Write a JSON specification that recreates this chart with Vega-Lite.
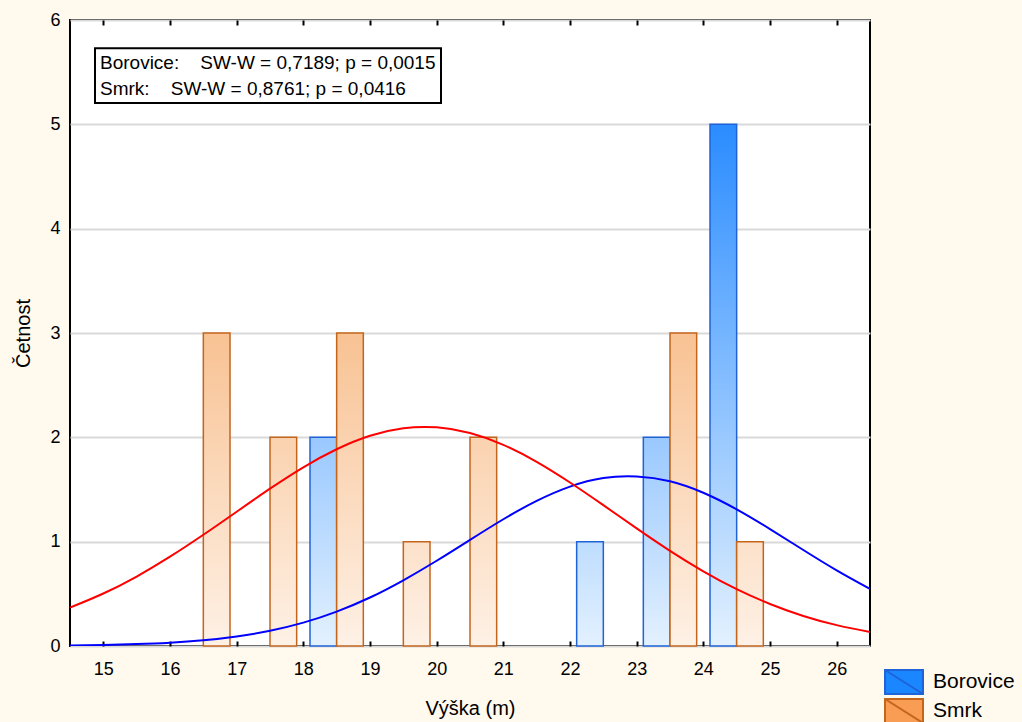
{
  "$schema": "https://vega.github.io/schema/vega-lite/v6.json",
  "width": 800,
  "height": 626,
  "autosize": "none",
  "padding": {"left": 70, "top": 20, "right": 152, "bottom": 76},
  "background": "#FFF9EE",
  "config": {
    "view": {"stroke": "#000000", "strokeWidth": 2, "fill": "#FFFFFF"},
    "font": "Liberation Sans",
    "axis": {
      "labelFont": "Liberation Sans",
      "labelColor": "#000000",
      "labelFontSize": 18,
      "titleFont": "Liberation Sans",
      "titleFontSize": 20,
      "titleFontWeight": "normal",
      "titleColor": "#000000",
      "tickColor": "#000000",
      "tickWidth": 2,
      "domain": false
    }
  },
  "datasets": {
    "hist": [
      {"series": "Borovice", "bin": 18, "count": 2},
      {"series": "Borovice", "bin": 22, "count": 1},
      {"series": "Borovice", "bin": 23, "count": 2},
      {"series": "Borovice", "bin": 24, "count": 5},
      {"series": "Smrk", "bin": 16, "count": 3},
      {"series": "Smrk", "bin": 17, "count": 2},
      {"series": "Smrk", "bin": 18, "count": 3},
      {"series": "Smrk", "bin": 19, "count": 1},
      {"series": "Smrk", "bin": 20, "count": 2},
      {"series": "Smrk", "bin": 23, "count": 3},
      {"series": "Smrk", "bin": 24, "count": 1}
    ],
    "curves": [
      {"series": "Borovice", "x": 14.5, "y": 0.005},
      {"series": "Borovice", "x": 15, "y": 0.009},
      {"series": "Borovice", "x": 15.5, "y": 0.018},
      {"series": "Borovice", "x": 16, "y": 0.032},
      {"series": "Borovice", "x": 16.5, "y": 0.055},
      {"series": "Borovice", "x": 17, "y": 0.092},
      {"series": "Borovice", "x": 17.5, "y": 0.146},
      {"series": "Borovice", "x": 18, "y": 0.224},
      {"series": "Borovice", "x": 18.5, "y": 0.33},
      {"series": "Borovice", "x": 19, "y": 0.465},
      {"series": "Borovice", "x": 19.5, "y": 0.63},
      {"series": "Borovice", "x": 20, "y": 0.817},
      {"series": "Borovice", "x": 20.5, "y": 1.017},
      {"series": "Borovice", "x": 21, "y": 1.215},
      {"series": "Borovice", "x": 21.5, "y": 1.391},
      {"series": "Borovice", "x": 22, "y": 1.528},
      {"series": "Borovice", "x": 22.5, "y": 1.61},
      {"series": "Borovice", "x": 23, "y": 1.625},
      {"series": "Borovice", "x": 23.5, "y": 1.579},
      {"series": "Borovice", "x": 24, "y": 1.469},
      {"series": "Borovice", "x": 24.5, "y": 1.31},
      {"series": "Borovice", "x": 25, "y": 1.121},
      {"series": "Borovice", "x": 25.5, "y": 0.92},
      {"series": "Borovice", "x": 26, "y": 0.725},
      {"series": "Borovice", "x": 26.5, "y": 0.547},
      {"series": "Smrk", "x": 14.5, "y": 0.368},
      {"series": "Smrk", "x": 15, "y": 0.503},
      {"series": "Smrk", "x": 15.5, "y": 0.666},
      {"series": "Smrk", "x": 16, "y": 0.856},
      {"series": "Smrk", "x": 16.5, "y": 1.066},
      {"series": "Smrk", "x": 17, "y": 1.287},
      {"series": "Smrk", "x": 17.5, "y": 1.508},
      {"series": "Smrk", "x": 18, "y": 1.713},
      {"series": "Smrk", "x": 18.5, "y": 1.886},
      {"series": "Smrk", "x": 19, "y": 2.015},
      {"series": "Smrk", "x": 19.5, "y": 2.087},
      {"series": "Smrk", "x": 20, "y": 2.096},
      {"series": "Smrk", "x": 20.5, "y": 2.041},
      {"series": "Smrk", "x": 21, "y": 1.928},
      {"series": "Smrk", "x": 21.5, "y": 1.765},
      {"series": "Smrk", "x": 22, "y": 1.567},
      {"series": "Smrk", "x": 22.5, "y": 1.35},
      {"series": "Smrk", "x": 23, "y": 1.127},
      {"series": "Smrk", "x": 23.5, "y": 0.912},
      {"series": "Smrk", "x": 24, "y": 0.716},
      {"series": "Smrk", "x": 24.5, "y": 0.545},
      {"series": "Smrk", "x": 25, "y": 0.403},
      {"series": "Smrk", "x": 25.5, "y": 0.288},
      {"series": "Smrk", "x": 26, "y": 0.2},
      {"series": "Smrk", "x": 26.5, "y": 0.135}
    ]
  },
  "resolve": {"axis": {"x": "independent"}},
  "layer": [
    {
      "data": {"name": "hist"},
      "transform": [
        {"calculate": "datum.bin + (datum.series === 'Borovice' ? 0.1 : 0.5)", "as": "x0"},
        {"calculate": "datum.x0 + 0.4", "as": "x1"}
      ],
      "mark": {"type": "rect", "strokeWidth": 1.5, "opacity": 1},
      "encoding": {
        "x": {
          "field": "x0", "type": "quantitative",
          "scale": {"domain": [14.5, 26.5], "nice": false, "zero": false},
          "axis": {
            "orient": "bottom",
            "values": [15, 16, 17, 18, 19, 20, 21, 22, 23, 24, 25, 26],
            "format": "d",
            "title": "Výška (m)",
            "offset": -5,
            "tickSize": 5,
            "labelPadding": 14,
            "titlePadding": 20,
            "grid": false
          }
        },
        "x2": {"field": "x1"},
        "y": {
          "field": "count", "type": "quantitative",
          "scale": {"domain": [0, 6], "nice": false},
          "axis": {
            "values": [0, 1, 2, 3, 4, 5, 6],
            "format": "d",
            "title": "Četnost",
            "ticks": false,
            "labelPadding": 10,
            "titlePadding": 16,
            "grid": true,
            "gridColor": "#D9D9D9",
            "gridWidth": 2
          }
        },
        "y2": {"datum": 0},
        "fill": {
          "field": "series", "type": "nominal",
          "scale": {"domain": ["Borovice", "Smrk"], "range": ["#1A86FF", "#F99D55"]},
          "legend": {
            "title": null, "orient": "none", "legendX": 821, "legendY": 649,
            "symbolType": "M-1.583,-1H1.583V1H-1.583Z M-1.583,-1L1.583,1",
            "symbolSize": 576, "symbolStrokeWidth": 2, "symbolOpacity": 1,
            "labelFont": "Liberation Sans", "labelFontSize": 21, "labelColor": "#000000",
            "labelOffset": 16, "rowPadding": -3
          },
          "condition": [
            {"test": "datum.series === 'Borovice' && datum.count === 5", "value": {"gradient": "linear", "x1": 0, "y1": 0, "x2": 0, "y2": 1, "stops": [{"offset": 0, "color": "#2A8CFF"}, {"offset": 1, "color": "#E3F1FE"}]}},
            {"test": "datum.series === 'Borovice' && datum.count === 2", "value": {"gradient": "linear", "x1": 0, "y1": 0, "x2": 0, "y2": 1, "stops": [{"offset": 0, "color": "#99C8FF"}, {"offset": 1, "color": "#E3F1FE"}]}},
            {"test": "datum.series === 'Borovice' && datum.count === 1", "value": {"gradient": "linear", "x1": 0, "y1": 0, "x2": 0, "y2": 1, "stops": [{"offset": 0, "color": "#BEDDFE"}, {"offset": 1, "color": "#E3F1FE"}]}},
            {"test": "datum.series === 'Smrk' && datum.count === 3", "value": {"gradient": "linear", "x1": 0, "y1": 0, "x2": 0, "y2": 1, "stops": [{"offset": 0, "color": "#F8C293"}, {"offset": 1, "color": "#FEF1E6"}]}},
            {"test": "datum.series === 'Smrk' && datum.count === 2", "value": {"gradient": "linear", "x1": 0, "y1": 0, "x2": 0, "y2": 1, "stops": [{"offset": 0, "color": "#FAD2AF"}, {"offset": 1, "color": "#FEF1E6"}]}},
            {"test": "datum.series === 'Smrk' && datum.count === 1", "value": {"gradient": "linear", "x1": 0, "y1": 0, "x2": 0, "y2": 1, "stops": [{"offset": 0, "color": "#FCE1CA"}, {"offset": 1, "color": "#FEF1E6"}]}}
          ]
        },
        "stroke": {
          "field": "series", "type": "nominal",
          "scale": {"domain": ["Borovice", "Smrk"], "range": ["#1F63D8", "#C4651C"]},
          "legend": {
            "title": null, "orient": "none", "legendX": 821, "legendY": 649,
            "symbolType": "M-1.583,-1H1.583V1H-1.583Z M-1.583,-1L1.583,1",
            "symbolSize": 576, "symbolStrokeWidth": 2, "symbolOpacity": 1,
            "labelFont": "Liberation Sans", "labelFontSize": 21, "labelColor": "#000000",
            "labelOffset": 16, "rowPadding": -3
          }
        }
      }
    },
    {
      "data": {"name": "curves"},
      "mark": {"type": "line", "strokeWidth": 2, "interpolate": "natural", "clip": true},
      "encoding": {
        "x": {
          "field": "x", "type": "quantitative",
          "axis": {
            "orient": "top",
            "values": [15, 16, 17, 18, 19, 20, 21, 22, 23, 24, 25, 26],
            "labels": false, "title": null, "offset": -5, "tickSize": 5, "grid": false
          }
        },
        "y": {"field": "y", "type": "quantitative", "title": "Četnost"},
        "color": {
          "field": "series", "type": "nominal",
          "scale": {"domain": ["Borovice", "Smrk"], "range": ["#0000FF", "#FF0000"]},
          "legend": null
        }
      }
    },
    {
      "data": {"values": [{}]},
      "mark": {"type": "rect", "fill": "#FFFFFF", "stroke": "#000000", "strokeWidth": 2},
      "encoding": {
        "x": {"datum": 14.875, "type": "quantitative", "axis": null},
        "x2": {"datum": 20.065},
        "y": {"datum": 5.73, "type": "quantitative", "title": "Četnost"},
        "y2": {"datum": 5.205}
      }
    },
    {
      "data": {"values": [{}]},
      "mark": {"type": "text", "align": "left", "baseline": "middle", "fontSize": 19, "font": "Liberation Sans", "color": "#000000"},
      "encoding": {
        "x": {"datum": 14.95, "type": "quantitative", "axis": null},
        "y": {"datum": 5.59, "type": "quantitative", "title": "Četnost"},
        "text": {"value": "Borovice:\u00a0\u00a0\u00a0\u00a0SW-W = 0,7189; p = 0,0015"}
      }
    },
    {
      "data": {"values": [{}]},
      "mark": {"type": "text", "align": "left", "baseline": "middle", "fontSize": 19, "font": "Liberation Sans", "color": "#000000"},
      "encoding": {
        "x": {"datum": 14.95, "type": "quantitative", "axis": null},
        "y": {"datum": 5.34, "type": "quantitative", "title": "Četnost"},
        "text": {"value": "Smrk:\u00a0\u00a0\u00a0\u00a0SW-W = 0,8761; p = 0,0416"}
      }
    }
  ]
}
